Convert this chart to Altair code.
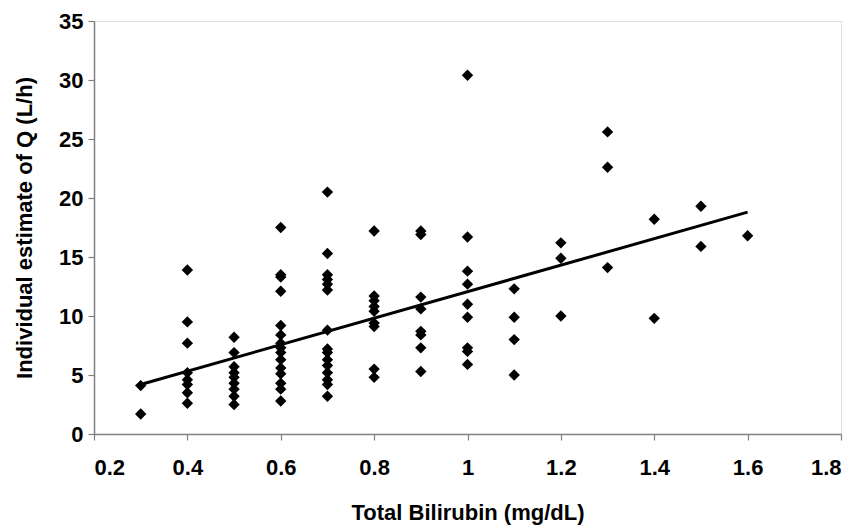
import altair as alt
import pandas as pd

# Individual estimates grouped by total bilirubin level
bili = (
    [0.3] * 2
    + [0.4] * 8
    + [0.5] * 9
    + [0.6] * 15
    + [0.7] * 15
    + [0.8] * 9
    + [0.9] * 8
    + [1.0] * 9
    + [1.1] * 4
    + [1.2] * 3
    + [1.3] * 3
    + [1.4] * 2
    + [1.5] * 2
    + [1.6] * 1
)
q = (
    [4.1, 1.7]
    + [13.9, 9.5, 7.7, 5.2, 4.6, 4.2, 3.5, 2.6]
    + [8.2, 6.9, 5.7, 5.2, 4.8, 4.3, 3.8, 3.2, 2.5]
    + [17.5, 13.5, 13.3, 12.1, 9.2, 8.4, 7.7, 7.3, 6.9, 6.3, 5.6, 5.1, 4.3, 3.8, 2.8]
    + [20.5, 15.3, 13.5, 13.1, 12.7, 12.2, 8.8, 7.2, 6.9, 6.3, 5.8, 5.2, 4.6, 4.2, 3.2]
    + [17.2, 11.7, 11.3, 10.8, 10.4, 9.4, 9.1, 5.5, 4.8]
    + [17.2, 16.9, 11.6, 10.6, 8.7, 8.4, 7.3, 5.3]
    + [30.4, 16.7, 13.8, 12.7, 11.0, 9.9, 7.3, 7.0, 5.9]
    + [12.3, 9.9, 8.0, 5.0]
    + [16.2, 14.9, 10.0]
    + [25.6, 22.6, 14.1]
    + [18.2, 9.8]
    + [19.3, 15.9]
    + [16.8]
)

# Linear trend line endpoints
fit_x = [0.3, 1.6]
fit_y = [4.2, 18.8]

x_ticks = [0.2, 0.4, 0.6, 0.8, 1.0, 1.2, 1.4, 1.6, 1.8]
y_ticks = [0, 5, 10, 15, 20, 25, 30, 35]

pts = pd.DataFrame({"bili": bili, "q": q})
fit = pd.DataFrame({"bili": fit_x, "q": fit_y})

FONT = "Liberation Sans"
xscale = alt.Scale(domain=[0.2, 1.8], nice=False, zero=False)
yscale = alt.Scale(domain=[0, 35], nice=False)

common_axis = dict(
    grid=False,
    domainColor="#808080",
    domainWidth=1.5,
    tickColor="#808080",
    tickWidth=1.2,
    tickSize=6,
    labelFont=FONT,
    labelFontWeight="bold",
    labelFontSize=22,
    labelColor="black",
    titleFont=FONT,
    titleFontWeight="bold",
    titleFontSize=22,
    titleColor="black",
)

xaxis = alt.Axis(
    values=x_ticks,
    format="~g",
    title="Total Bilirubin (mg/dL)",
    labelPadding=17,
    titlePadding=24,
    **common_axis,
)
yaxis = alt.Axis(
    values=y_ticks,
    title="Individual estimate of Q (L/h)",
    labelPadding=5,
    titlePadding=22,
    **common_axis,
)

points = alt.Chart(pts).mark_point(
    shape="diamond", filled=True, color="black", size=130, opacity=1
).encode(
    x=alt.X("bili:Q", scale=xscale, axis=xaxis),
    y=alt.Y("q:Q", scale=yscale, axis=yaxis),
)

line = alt.Chart(fit).mark_line(color="black", strokeWidth=3).encode(
    x=alt.X("bili:Q", scale=xscale),
    y=alt.Y("q:Q", scale=yscale),
)

chart = (
    alt.layer(points, line)
    .properties(
        width=747,
        height=413,
        autosize=alt.AutoSizeParams(type="none"),
        padding={"left": 94, "top": 21, "right": 16, "bottom": 94},
    )
    .configure_view(stroke=None)
    .configure(background="white")
)

chart.save("out.html", embed_options={"renderer": "svg", "actions": False})
